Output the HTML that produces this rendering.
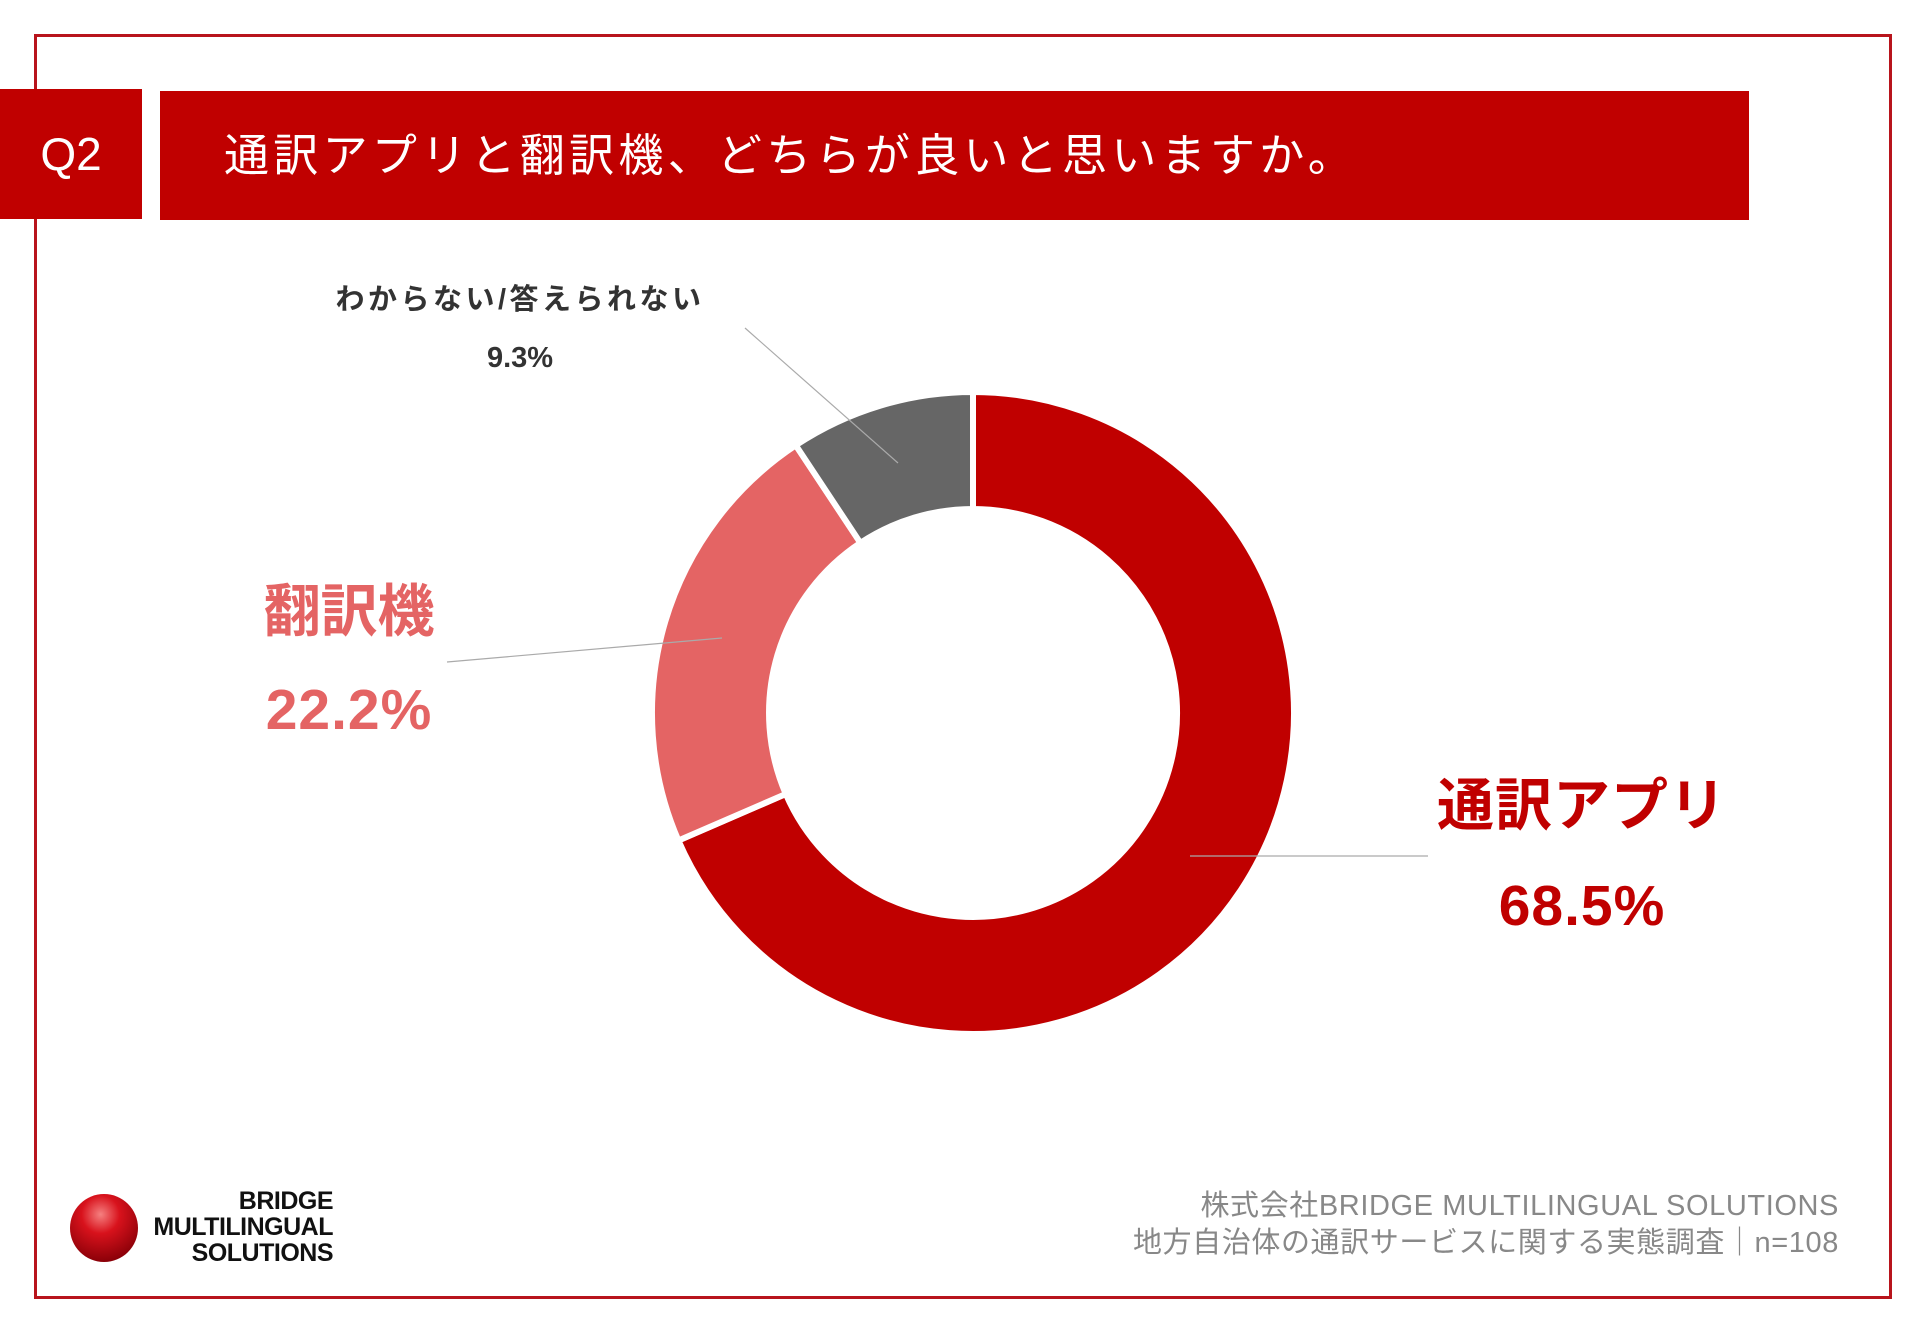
<!DOCTYPE html>
<html><head><meta charset="utf-8"><style>
html,body{margin:0;padding:0;background:#fff;}
body{width:1920px;height:1329px;position:relative;overflow:hidden;font-family:"Liberation Sans","Noto Sans CJK JP",sans-serif;}
.abs{position:absolute;}
</style></head><body>
<div class="abs" style="left:34px;top:34px;width:1852px;height:1259px;border:3px solid #b8141c;"></div>
<div class="abs" style="left:0;top:89px;width:142px;height:130px;background:#c00000;color:#fff;font-size:46px;line-height:130px;text-align:center;">Q2</div>
<div class="abs" style="left:160px;top:91px;width:1589px;height:129px;background:#c00000;"></div>
<div class="abs" style="left:224px;top:91px;height:129px;line-height:129px;color:#fff;font-size:45px;letter-spacing:4.3px;white-space:nowrap;">通訳アプリと翻訳機、どちらが良いと思いますか。</div>
<svg class="abs" style="left:0;top:0" width="1920" height="1329">
<path d="M973,392 A321,321 0 1 1 678.4,840.5 L785.8,794 A204,204 0 1 0 973,509 Z" fill="#c00000" stroke="#fff" stroke-width="6"/>
<path d="M678.4,840.5 A321,321 0 0 1 795.8,445.3 L860.4,542.9 A204,204 0 0 0 785.8,794 Z" fill="#e46464" stroke="#fff" stroke-width="6"/>
<path d="M795.8,445.3 A321,321 0 0 1 973,392 L973,509 A204,204 0 0 0 860.4,542.9 Z" fill="#666" stroke="#fff" stroke-width="6"/>
<line x1="745" y1="328" x2="898" y2="463" stroke="#aaa" stroke-width="1.2"/>
<line x1="447" y1="662" x2="722" y2="638" stroke="#aaa" stroke-width="1.2"/>
<line x1="1190" y1="856" x2="1428" y2="856" stroke="#aaa" stroke-width="1.2"/>
<defs><radialGradient id="g" cx="0.45" cy="0.3" r="0.7"><stop offset="0" stop-color="#f58080"/><stop offset="0.4" stop-color="#d8121c"/><stop offset="1" stop-color="#8a0008"/></radialGradient></defs>
<circle cx="104" cy="1228" r="34" fill="url(#g)"/>
</svg>
<div class="abs" style="left:270px;top:280px;width:500px;text-align:center;font-size:29px;font-weight:bold;color:#333;line-height:40px;letter-spacing:3.5px;">わからない/答えられない</div>
<div class="abs" style="left:420px;top:338px;width:200px;text-align:center;font-size:29px;font-weight:bold;color:#333;line-height:40px;">9.3%</div>
<div class="abs" style="left:199px;top:578px;width:300px;text-align:center;font-size:57px;font-weight:bold;color:#e46464;line-height:68px;">翻訳機</div>
<div class="abs" style="left:199px;top:676px;width:300px;text-align:center;font-size:57px;font-weight:bold;color:#e46464;line-height:68px;letter-spacing:1px;">22.2%</div>
<div class="abs" style="left:1382px;top:772px;width:400px;text-align:center;font-size:57px;font-weight:bold;color:#c00000;line-height:68px;letter-spacing:1px;">通訳アプリ</div>
<div class="abs" style="left:1382px;top:872px;width:400px;text-align:center;font-size:57px;font-weight:bold;color:#c00000;line-height:68px;letter-spacing:1px;">68.5%</div>
<div class="abs" style="right:81px;top:1188px;text-align:right;font-size:29px;color:#888;line-height:37px;white-space:nowrap;letter-spacing:0.6px;">株式会社BRIDGE MULTILINGUAL SOLUTIONS<br>地方自治体の通訳サービスに関する実態調査｜n=108</div>
<div class="abs" style="left:120px;top:1188px;width:213px;text-align:right;font-size:25px;font-weight:bold;color:#111;line-height:26px;letter-spacing:-0.5px;">BRIDGE<br>MULTILINGUAL<br>SOLUTIONS</div>
</body></html>
